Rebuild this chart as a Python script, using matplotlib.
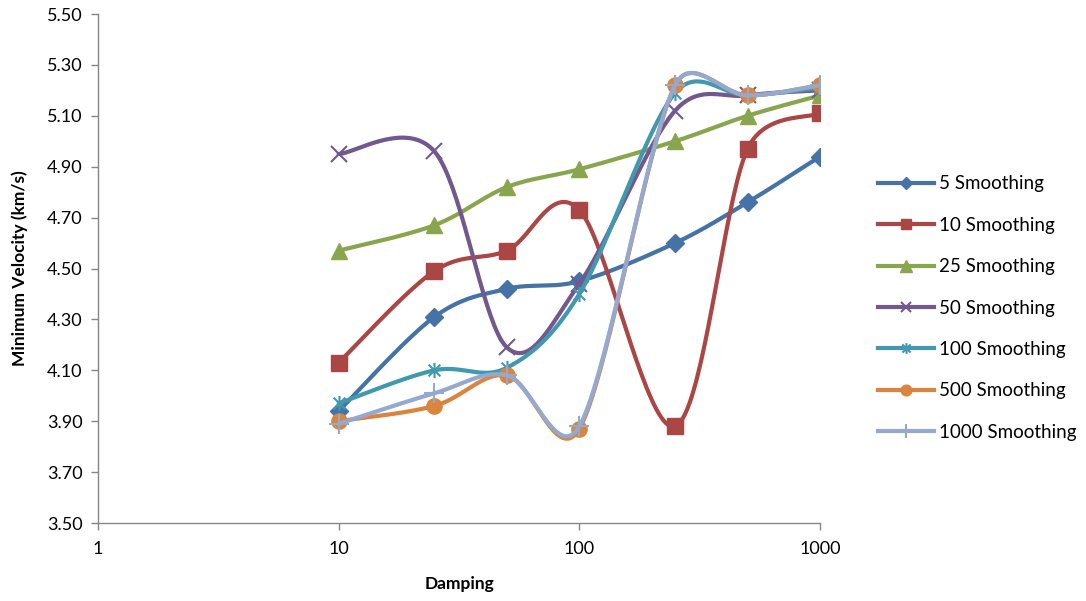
import numpy as np
import matplotlib.pyplot as plt
from matplotlib.path import Path
from matplotlib.lines import Line2D

plt.rcParams['font.family'] = ['Lato', 'DejaVu Sans']

# damping values on the x axis
damping = [10, 25, 50, 100, 250, 500, 1000]

# minimum velocity (km/s) for each smoothing setting
s5 = [3.94, 4.31, 4.42, 4.45, 4.60, 4.76, 4.94]
s10 = [4.13, 4.49, 4.57, 4.73, 3.88, 4.97, 5.11]
s25 = [4.57, 4.67, 4.82, 4.89, 5.00, 5.10, 5.18]
s50 = [4.95, 4.96, 4.19, 4.44, 5.12, 5.18, 5.20]
s100 = [3.97, 4.10, 4.11, 4.40, 5.19, 5.18, 5.21]
s500 = [3.90, 3.96, 4.08, 3.87, 5.22, 5.18, 5.22]
s1000 = [3.89, 4.01, 4.08, 3.88, 5.22, 5.18, 5.22]

labels = ['5 Smoothing', '10 Smoothing', '25 Smoothing', '50 Smoothing',
          '100 Smoothing', '500 Smoothing', '1000 Smoothing']
series = [s5, s10, s25, s50, s100, s500, s1000]
colors = ['#4572A7', '#AA4643', '#89A54E', '#71588F', '#4198AF', '#DB843D', '#93A9CF']

# asterisk marker: an x with a vertical bar through it
star = Path([(-1, -1), (1, 1), (-1, 1), (1, -1), (0, -1.3), (0, 1.3)],
            [Path.MOVETO, Path.LINETO, Path.MOVETO, Path.LINETO, Path.MOVETO, Path.LINETO])
markers = [('D', 9, None), ('s', 11, None), ('^', 12, None), ('x', 11, 1.5),
           (star, 11, 1.5), ('o', 11, None), ('+', 14, 1.5)]


def smooth(ax, xs, ys, n=40):
    # bezier through the points in screen space; control arms are 1/6 of
    # the neighbour chord, capped at half the segment length
    pts = ax.transData.transform(np.column_stack([xs, ys]))
    out = []
    for i in range(len(pts) - 1):
        p0 = pts[max(i - 1, 0)]
        p1 = pts[i]
        p2 = pts[i + 1]
        p3 = pts[min(i + 2, len(pts) - 1)]
        half = np.hypot(*(p2 - p1)) / 2
        a1 = (p2 - p0) / 6
        a2 = (p3 - p1) / 6
        l1, l2 = np.hypot(*a1), np.hypot(*a2)
        if l1 > half:
            a1 *= half / l1
        if l2 > half:
            a2 *= half / l2
        c1 = p1 + a1
        c2 = p2 - a2
        t = np.linspace(0, 1, n)[:, None]
        seg = ((1 - t) ** 3 * p1 + 3 * (1 - t) ** 2 * t * c1
               + 3 * (1 - t) * t ** 2 * c2 + t ** 3 * p2)
        out.append(seg if i == 0 else seg[1:])
    out = ax.transData.inverted().transform(np.vstack(out))
    return out[:, 0], out[:, 1]


fig = plt.figure(figsize=(10.86, 6.01), dpi=100)
ax = fig.add_axes([98 / 1086, 1 - 523 / 601, (820 - 98) / 1086, (523 - 14) / 601])
ax.set_xscale('log')
ax.set_xlim(1, 1000)
ax.set_ylim(3.5, 5.5)

handles = []
for k, (ys, lab, col, (mk, ms, mew)) in enumerate(zip(series, labels, colors, markers)):
    sx, sy = smooth(ax, damping, ys)
    ax.plot(sx, sy, color=col, lw=3, zorder=2 + k, solid_capstyle='round')
    kw = dict(marker=mk, markersize=ms, color=col, linestyle='none', zorder=2 + k)
    if mew is not None:
        kw['markeredgewidth'] = mew
    else:
        kw['markeredgecolor'] = col
    ax.plot(damping, ys, **kw)
    handles.append(Line2D([], [], color=col, lw=3, marker=mk,
                          markersize=ms * 0.7, markeredgewidth=mew if mew else 1,
                          markeredgecolor=col, label=lab))

ax.set_xticks([1, 10, 100, 1000])
ax.set_xticklabels(['1', '10', '100', '1000'])
ax.minorticks_off()
ax.set_yticks(np.arange(3.5, 5.51, 0.2))
ax.set_yticklabels(['%.2f' % v for v in np.arange(3.5, 5.51, 0.2)])

for side in ['top', 'right']:
    ax.spines[side].set_visible(False)
for side in ['left', 'bottom']:
    ax.spines[side].set_color('#868686')
    ax.spines[side].set_linewidth(1)
ax.tick_params(axis='both', colors='#868686', labelcolor='black', labelsize=13,
               length=5, width=1, direction='out')
ax.tick_params(axis='x', pad=8)
ax.tick_params(axis='y', pad=6)

ax.set_xlabel('Damping', fontsize=12.5, fontweight='bold', labelpad=14)
ax.set_ylabel('Minimum Velocity (km/s)', fontsize=12.5, fontweight='bold', labelpad=14)

fig.legend(handles=handles, loc='upper left', bbox_to_anchor=(870 / 1086, 1 - 168 / 601),
           frameon=False, fontsize=13.5, handlelength=3.0, handletextpad=0.3,
           labelspacing=1.3, borderaxespad=0)

fig.savefig('out.png', dpi=100)
